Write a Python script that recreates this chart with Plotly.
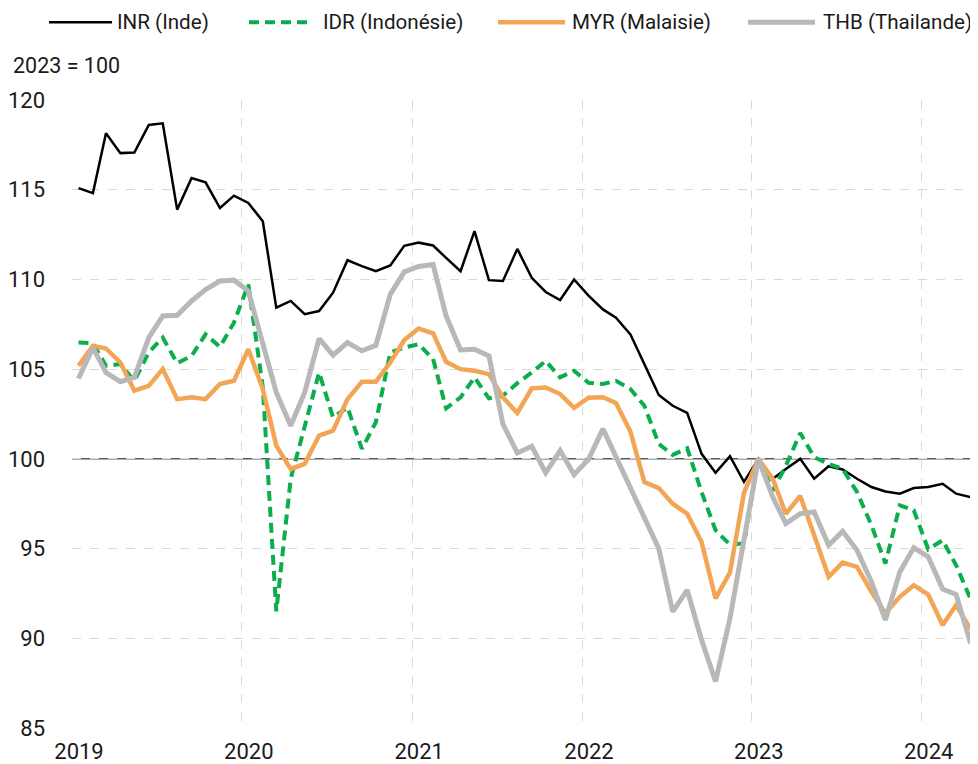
import plotly.graph_objects as go
import pandas as pd

dates = pd.date_range("2019-01-01", periods=64, freq="MS") + pd.Timedelta(days=14)

inr = [115.09, 114.81, 118.15, 117.04, 117.07, 118.61, 118.70, 113.89, 115.65, 115.41, 113.98, 114.67,
       114.26, 113.24, 108.43, 108.80, 108.06, 108.24, 109.26, 111.07, 110.74, 110.46, 110.78, 111.87,
       112.05, 111.89, 111.20, 110.46, 112.69, 109.96, 109.91, 111.70, 110.09, 109.30, 108.85, 110.00,
       109.10, 108.33, 107.87, 106.94, 105.28, 103.56, 102.96, 102.56, 100.28, 99.22, 100.15, 98.72,
       100.00, 98.89, 99.44, 100.00, 98.89, 99.59, 99.41, 98.89, 98.43, 98.18, 98.06, 98.37,
       98.43, 98.61, 98.06, 97.87]

idr = [106.48, 106.45, 105.19, 105.28, 104.35, 105.93, 106.76, 105.33, 105.74, 106.94, 106.24, 107.59,
       109.72, 104.00, 91.50, 98.90, 101.80, 104.81, 102.31, 102.87, 100.56, 102.04, 105.93, 106.20,
       106.39, 105.56, 102.81, 103.43, 104.54, 103.37, 103.52, 104.22, 104.81, 105.46, 104.54, 104.91,
       104.24, 104.17, 104.35, 103.89, 102.96, 100.83, 100.22, 100.59, 98.15, 96.02, 95.22, 95.28,
       100.00, 98.24, 99.60, 101.44, 100.09, 99.72, 99.44, 98.15, 96.30, 94.17, 97.41, 97.13,
       94.96, 95.46, 94.07, 92.19]

myr = [105.19, 106.30, 106.15, 105.37, 103.80, 104.07, 105.00, 103.33, 103.43, 103.33, 104.17, 104.35,
       106.11, 103.89, 100.74, 99.44, 99.72, 101.30, 101.57, 103.33, 104.30, 104.30, 105.37, 106.62,
       107.26, 107.00, 105.41, 105.00, 104.91, 104.72, 103.43, 102.56, 103.93, 103.98, 103.61, 102.84,
       103.41, 103.43, 103.11, 101.52, 98.70, 98.37, 97.50, 96.94, 95.37, 92.22, 93.67, 98.10,
       100.00, 98.89, 96.94, 97.93, 95.74, 93.43, 94.22, 93.98, 92.59, 91.39, 92.31, 92.96,
       92.44, 90.74, 91.85, 90.52]

thb = [104.48, 106.20, 104.81, 104.30, 104.54, 106.76, 107.96, 108.00, 108.80, 109.44, 109.91, 109.96,
       109.35, 106.30, 103.70, 101.85, 103.70, 106.70, 105.78, 106.48, 106.02, 106.33, 109.17, 110.42,
       110.72, 110.83, 107.96, 106.07, 106.11, 105.74, 101.94, 100.33, 100.70, 99.22, 100.46, 99.12,
       99.98, 101.67, 100.09, 98.48, 96.67, 95.00, 91.48, 92.69, 89.91, 87.59, 91.11, 95.37,
       100.00, 97.87, 96.39, 96.94, 97.04, 95.19, 95.96, 94.91, 93.15, 91.02, 93.70, 95.04,
       94.54, 92.74, 92.44, 89.72]

series_names = ["INR (Inde)", "IDR (Indonésie)", "MYR (Malaisie)", "THB (Thailande)"]
y_ticks = [85, 90, 95, 100, 105, 110, 115, 120]
base_value = 100
base_label = "2023 = 100"

FONT = "Roboto, Noto Sans, sans-serif"
TXT = "#1a1a1a"
styles = [
    dict(color="#000000", width=2.5, dash="solid"),
    dict(color="#0aae4c", width=4, dash="10px,6px"),
    dict(color="#f2a655", width=4.5, dash="solid"),
    dict(color="#b8b8b8", width=5, dash="solid"),
]

# page is offset by the 8px body margin; plot area spans px x 72..978, y 100..730
W, H = 970, 756
PL, PR, PT, PB = 72, 978, 100, 730


def xp(px):
    return (px - PL) / (PR - PL)


def yp(py):
    return (PB - py) / (PB - PT)


fig = go.Figure()
for name, vals, st in zip(series_names, [inr, idr, myr, thb], styles):
    fig.add_trace(go.Scatter(x=dates, y=vals, name=name, mode="lines",
                             line=dict(color=st["color"], width=st["width"], dash=st["dash"]),
                             showlegend=False))

shapes = [dict(type="line", xref="paper", yref="y", x0=0, x1=1, y0=base_value, y1=base_value,
               line=dict(color="#595959", width=1.5), layer="between")]
annotations = []

# legend drawn manually (longer line samples than plotly's built-in legend)
leg_line_x = [(49, 112), (249, 312), (498, 565), (748, 815)]
leg_text_x = [115, 321, 570, 821]
leg_y = 22
for name, st, (x0, x1), tx in zip(series_names, styles, leg_line_x, leg_text_x):
    shapes.append(dict(type="line", xref="paper", yref="paper", x0=xp(x0), x1=xp(x1),
                       y0=yp(leg_y), y1=yp(leg_y),
                       line=dict(color=st["color"], width=st["width"], dash=st["dash"])))
    annotations.append(dict(text=name, xref="paper", yref="paper", x=xp(tx), y=yp(leg_y),
                            xanchor="left", yanchor="middle", showarrow=False,
                            font=dict(family=FONT, size=20.6, color=TXT)))
annotations.append(dict(text=base_label, xref="paper", yref="paper", x=xp(11), y=yp(65),
                        xanchor="left", yanchor="middle", showarrow=False,
                        font=dict(family=FONT, size=21.5, color=TXT)))

fig.update_layout(
    width=W, height=H,
    margin=dict(l=PL - 8, r=0, t=PT - 8, b=H + 8 - PB),
    paper_bgcolor="white", plot_bgcolor="white",
    font=dict(family=FONT, size=22, color=TXT),
    showlegend=False,
    shapes=shapes,
    annotations=annotations,
)
fig.update_xaxes(type="date", range=["2019-01-01", "2024-05-01"], dtick="M12",
                 tick0="2019-01-01", tickformat="%Y", showgrid=True,
                 gridcolor="#d9d9d9", griddash="dash", gridwidth=1,
                 zeroline=False, showline=False, ticks="", ticklabelstandoff=8,
                 ticklabelshift=7)
fig.update_yaxes(range=[85, 120], tickvals=y_ticks, showgrid=True,
                 gridcolor="#d9d9d9", griddash="dash", gridwidth=1,
                 zeroline=False, showline=False, ticks="", ticklabelstandoff=26)

fig.write_html("out.html")
